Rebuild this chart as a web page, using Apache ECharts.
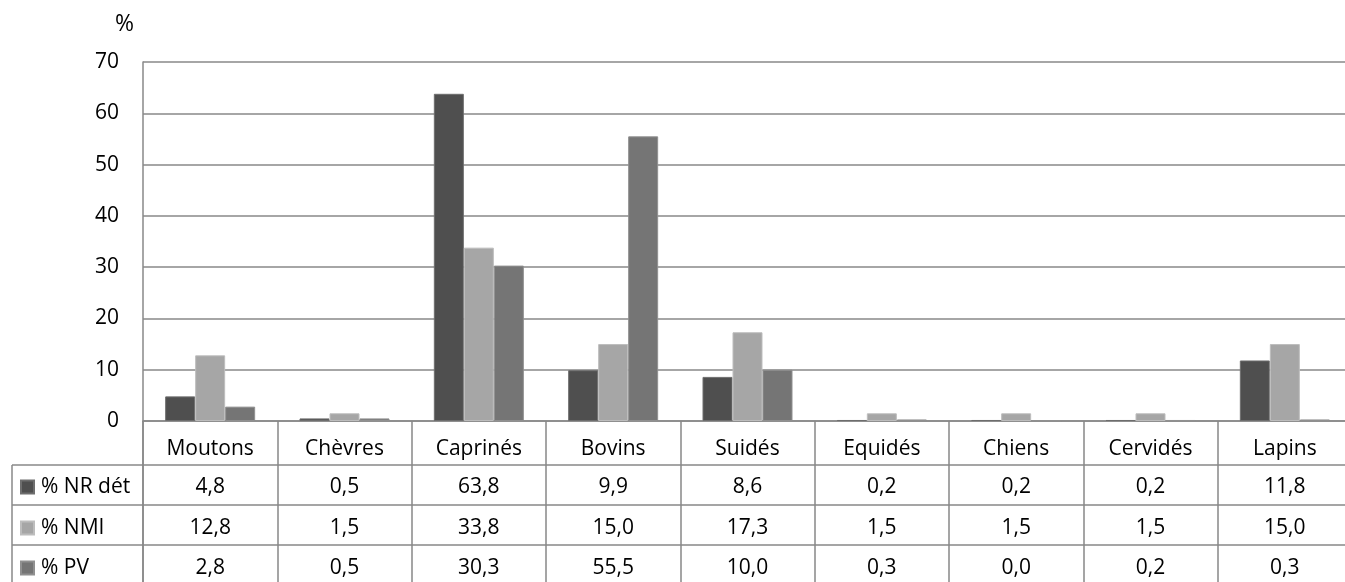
<!DOCTYPE html>
<html>
<head>
<meta charset="utf-8">
<script src="https://cdn.jsdelivr.net/npm/echarts@6/dist/echarts.min.js"></script>
<style>
  html, body { margin: 0; padding: 0; background: #fff; overflow: hidden; }
  #chart { width: 1352px; height: 582px; }
</style>
</head>
<body>
<div id="chart"></div>
<script>
// Species groups along the horizontal axis
const categories = ['Moutons', 'Chèvres', 'Caprinés', 'Bovins', 'Suidés', 'Equidés', 'Chiens', 'Cervidés', 'Lapins'];

// Percentages per species
const seriesNames = ['% NR dét', '% NMI', '% PV'];
const nrDet = [4.8, 0.5, 63.8, 9.9, 8.6, 0.2, 0.2, 0.2, 11.8];
const nmi   = [12.8, 1.5, 33.8, 15.0, 17.3, 1.5, 1.5, 1.5, 15.0];
const pv    = [2.8, 0.5, 30.3, 55.5, 10.0, 0.3, 0.0, 0.2, 0.3];
const seriesValues = [nrDet, nmi, pv];

// Value axis ticks
const yMin = 0, yMax = 70, yStep = 10;

// Styling
const FONT = '"Open Sans", "DejaVu Sans", sans-serif';
const FS = 21;
const LINE = '#888888';
const TEXT = '#000000';
const fills = ['#4f4f4f', '#a6a6a6', '#757575'];
const borders = ['#6e6e6e', '#bdbdbd', '#909090'];

// Layout of the plot and the data table beneath it
const GRID_LEFT = 143, GRID_TOP = 62, GRID_BOTTOM = 161;
const CAT_ROW = 44;                 // height of the category-name row
const ROW = 40;                     // height of each value row
const TABLE_LEFT = 12;
const CHART_H = 582;
const axisY = CHART_H - GRID_BOTTOM;

const fmt = v => v.toFixed(1).replace('.', ',');

const chart = echarts.init(document.getElementById('chart'), null, { renderer: 'canvas' });

// Main category axis plus one extra axis per table row (values as text)
const xAxes = [{
  type: 'category',
  data: categories,
  position: 'bottom',
  axisLine: { show: true, lineStyle: { color: LINE, width: 1.5 } },
  axisTick: { show: true, interval: 0, length: CAT_ROW, lineStyle: { color: LINE, width: 1.5 } },
  axisLabel: { interval: 0, margin: 18, fontFamily: FONT, fontSize: FS, color: TEXT }
}];
seriesValues.forEach((vals, i) => {
  xAxes.push({
    type: 'category',
    data: vals.map(fmt),
    position: 'bottom',
    offset: CAT_ROW + ROW * i,
    axisLine: { show: true, lineStyle: { color: LINE, width: 1.5 } },
    axisTick: { show: true, interval: 0, length: ROW + (i === 0 ? 1 : 0), lineStyle: { color: LINE, width: 1.5 } },
    axisLabel: { interval: 0, margin: i === 0 ? 12 : 13, fontFamily: FONT, fontSize: FS, color: TEXT }
  });
});

// One legend entry per table row, acting as the row header
const legends = seriesNames.map((name, i) => ({
  data: [name],
  orient: 'horizontal',
  left: 20,
  top: axisY + CAT_ROW + ROW * i + 11 + (i === 0 ? 0 : 1),
  padding: 0,
  itemWidth: 13,
  itemHeight: 13,
  icon: 'rect',
  selectedMode: false,
  textStyle: { fontFamily: FONT, fontSize: FS, color: TEXT, lineHeight: 22, padding: [0, 0, 0, 2] }
}));

// Row-header borders on the left of the data table
const tableGraphics = [];
for (let i = 0; i < 3; i++) {
  const y = axisY + CAT_ROW + ROW * i;
  tableGraphics.push({
    type: 'line', silent: true,
    shape: { x1: TABLE_LEFT, y1: y, x2: GRID_LEFT, y2: y },
    style: { stroke: LINE, lineWidth: 1.5 }
  });
}
tableGraphics.push({
  type: 'line', silent: true,
  shape: { x1: TABLE_LEFT, y1: axisY + CAT_ROW, x2: TABLE_LEFT, y2: CHART_H + 5 },
  style: { stroke: LINE, lineWidth: 1.5 }
});
tableGraphics.push({
  type: 'line', silent: true,
  shape: { x1: GRID_LEFT, y1: axisY, x2: GRID_LEFT, y2: CHART_H + 5 },
  style: { stroke: LINE, lineWidth: 1.5 }
});

chart.setOption({
  animation: false,
  backgroundColor: '#ffffff',
  grid: { left: GRID_LEFT, right: 0, top: GRID_TOP, bottom: GRID_BOTTOM, containLabel: false },
  legend: legends,
  xAxis: xAxes,
  yAxis: {
    type: 'value',
    min: yMin, max: yMax, interval: yStep,
    name: '%',
    nameLocation: 'end',
    nameGap: 26,
    nameTextStyle: { fontFamily: FONT, fontSize: 23, color: TEXT, align: 'right', padding: [0, 9, 0, 0] },
    axisLine: { show: true, lineStyle: { color: LINE, width: 1.5 } },
    axisTick: { show: false },
    axisLabel: { margin: 24, fontFamily: FONT, fontSize: FS, color: TEXT, padding: [5, 0, 0, 0] },
    splitLine: { show: true, lineStyle: { color: LINE, width: 1.5 } }
  },
  series: seriesNames.map((name, i) => ({
    name,
    type: 'bar',
    xAxisIndex: 0,
    data: seriesValues[i],
    barWidth: 30,
    barGap: '0%',
    itemStyle: { color: fills[i], borderColor: borders[i], borderWidth: 1 }
  })),
  graphic: tableGraphics
});
</script>
</body>
</html>
